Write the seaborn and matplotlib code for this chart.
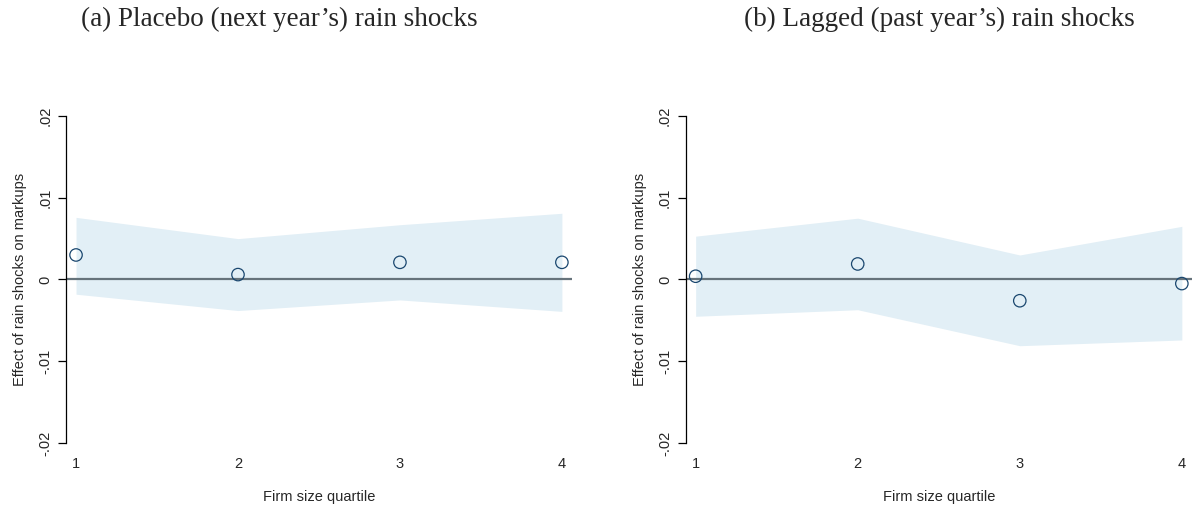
import matplotlib
matplotlib.use("Agg")
import matplotlib.pyplot as plt
import seaborn as sns
import numpy as np
import pandas as pd

sns.set_style("white")
plt.rcParams['font.family'] = ['Liberation Sans', 'DejaVu Sans']

quartiles = [1, 2, 3, 4]

# Panel (a): placebo (next year's) rain shocks
placebo_coef = [0.0030, 0.0006, 0.0021, 0.0021]
placebo_hi = [0.0076, 0.0050, 0.0067, 0.0081]
placebo_lo = [-0.0018, -0.0038, -0.0025, -0.0039]

# Panel (b): lagged (past year's) rain shocks
lagged_coef = [0.0004, 0.0019, -0.0026, -0.0005]
lagged_hi = [0.0053, 0.0075, 0.0030, 0.0065]
lagged_lo = [-0.0045, -0.0037, -0.0081, -0.0074]

titles = ["(a) Placebo (next year\u2019s) rain shocks", "(b) Lagged (past year\u2019s) rain shocks"]
ytick_vals = [-0.02, -0.01, 0.0, 0.01, 0.02]
ytick_labels = ["-.02", "-.01", "0", ".01", ".02"]
xlabel = "Firm size quartile"
ylabel = "Effect of rain shocks on markups"

fig = plt.figure(figsize=(11.95, 5.05), dpi=100)
axes_pos = [[0.0555, 0.1228, 0.4231, 0.6475], [0.574, 0.1228, 0.4234, 0.6475]]
title_x = [0.2335, 0.786]

panels = [(placebo_coef, placebo_lo, placebo_hi), (lagged_coef, lagged_lo, lagged_hi)]

for i, (coef, lo, hi) in enumerate(panels):
    ax = fig.add_axes(axes_pos[i])
    df = pd.DataFrame({"q": quartiles, "coef": coef, "lo": lo, "hi": hi})
    ax.fill_between(df["q"], df["lo"], df["hi"], color="#e2eff6", linewidth=0, zorder=1)
    ax.axhline(0, color="#66737b", lw=1.6, zorder=2)
    sns.scatterplot(data=df, x="q", y="coef", ax=ax, marker="o", s=80,
                    facecolor="none", edgecolor="#1a476f", linewidth=0.9, zorder=3)
    ax.set_xlim(0.94, 4.062)
    ax.set_ylim(-0.02, 0.02)
    ax.set_xticks(quartiles)
    ax.set_xticklabels([str(q) for q in quartiles], fontsize=10.5)
    ax.set_yticks(ytick_vals)
    ax.set_yticklabels(ytick_labels, fontsize=10.5, rotation=90, va="center")
    ax.tick_params(axis="x", length=0, pad=10)
    ax.tick_params(axis="y", length=6, width=0.9, color="black", pad=4, left=True)
    for s in ["top", "right", "bottom"]:
        ax.spines[s].set_visible(False)
    ax.spines["left"].set_color("black")
    ax.spines["left"].set_linewidth(0.9)
    ax.set_xlabel(xlabel, fontsize=10.5, labelpad=14)
    ax.set_ylabel(ylabel, fontsize=10.5, labelpad=8)
    ax.set_facecolor("white")
    fig.text(title_x[i], 0.962, titles[i], ha="center", va="center",
             fontsize=19.5, family=["Liberation Serif", "DejaVu Serif"])

fig.savefig("out.png", dpi=100, facecolor="white")
